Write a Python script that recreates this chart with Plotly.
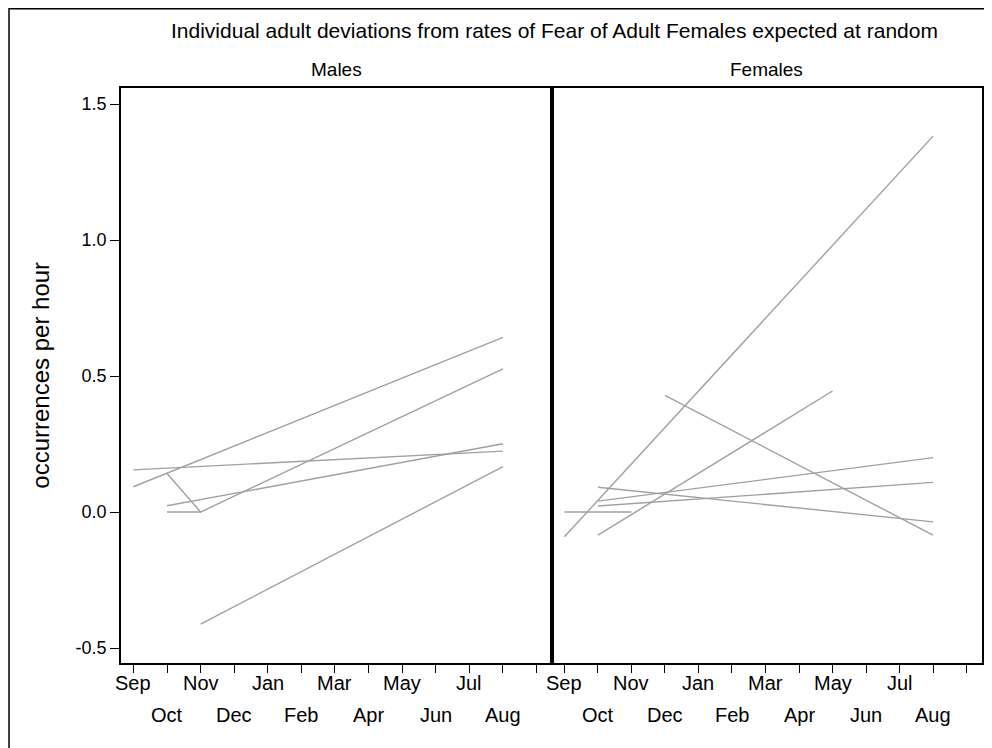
import plotly.graph_objects as go

# ---------------- data ----------------
months = ["Sep", "Oct", "Nov", "Dec", "Jan", "Feb", "Mar", "Apr", "May", "Jun", "Jul", "Aug"]
y_ticks = [-0.5, 0.0, 0.5, 1.0, 1.5]
y_tick_labels = ["-0.5", "0.0", "0.5", "1.0", "1.5"]

# Males (left panel): each individual line = (months, values)
male_1_months = ["Sep", "Aug"]
male_1_values = [0.093, 0.642]
male_2_months = ["Sep", "Aug"]
male_2_values = [0.155, 0.224]
male_3_months = ["Oct", "Nov", "Aug"]
male_3_values = [0.142, 0.0, 0.526]
male_4_months = ["Oct", "Nov"]
male_4_values = [0.0, 0.0]
male_5_months = ["Oct", "Aug"]
male_5_values = [0.023, 0.251]
male_6_months = ["Nov", "Aug"]
male_6_values = [-0.412, 0.167]

# Females (right panel)
female_1_months = ["Sep", "Aug"]
female_1_values = [-0.091, 1.382]
female_2_months = ["Oct", "May"]
female_2_values = [-0.085, 0.445]
female_3_months = ["Dec", "Aug"]
female_3_values = [0.429, -0.085]
female_4_months = ["Oct", "Aug"]
female_4_values = [0.091, -0.036]
female_5_months = ["Oct", "Aug"]
female_5_values = [0.040, 0.200]
female_6_months = ["Oct", "Aug"]
female_6_values = [0.022, 0.109]
female_7_months = ["Sep", "Nov"]
female_7_values = [0.0, 0.0]

males = [
    (male_1_months, male_1_values), (male_2_months, male_2_values),
    (male_3_months, male_3_values), (male_4_months, male_4_values),
    (male_5_months, male_5_values), (male_6_months, male_6_values),
]
females = [
    (female_1_months, female_1_values), (female_2_months, female_2_values),
    (female_3_months, female_3_values), (female_4_months, female_4_values),
    (female_5_months, female_5_values), (female_6_months, female_6_values),
    (female_7_months, female_7_values),
]

# ---------------- figure ----------------
# page body has an 8px margin, so the figure is 8px smaller than the window
OFF = 8
W, H = 984, 740
ML, MR, MT, MB = 113, 8, 80, 85
PW = W - ML - MR
PH = H - MT - MB
split = 432 / PW

FONT = "Arial, Liberation Sans, sans-serif"
LINE_COLOR = "#a0a0a0"

fig = go.Figure()


def idx(ms):
    return [months.index(m) for m in ms]


for ms, vs in males:
    fig.add_trace(go.Scatter(x=idx(ms), y=vs, mode="lines", xaxis="x", yaxis="y",
                             line=dict(color=LINE_COLOR, width=1.4), showlegend=False,
                             hoverinfo="skip"))
for ms, vs in females:
    fig.add_trace(go.Scatter(x=idx(ms), y=vs, mode="lines", xaxis="x2", yaxis="y2",
                             line=dict(color=LINE_COLOR, width=1.4), showlegend=False,
                             hoverinfo="skip"))

xr = [-0.37, 12.46]
yr = [-0.555, 1.559]
tickvals_x = list(range(len(months) + 1))

common_x = dict(range=xr, showgrid=False, zeroline=False, showline=True, linecolor="black",
                linewidth=1.5, mirror=True, ticks="outside", ticklen=8, tickwidth=1.2,
                tickcolor="black", tickvals=tickvals_x, showticklabels=False, fixedrange=True)

fig.update_layout(
    width=W, height=H,
    margin=dict(l=ML, r=MR, t=MT, b=MB, pad=0),
    paper_bgcolor="white", plot_bgcolor="white",
    font=dict(family=FONT, color="black"),
    xaxis=dict(domain=[0, split], anchor="y", **common_x),
    xaxis2=dict(domain=[split, 1], anchor="y2", **common_x),
    yaxis=dict(range=yr, domain=[0, 1], anchor="x", showgrid=False, zeroline=False,
               showline=True, linecolor="black", linewidth=1.5, mirror=True,
               ticks="outside", ticklen=9, tickwidth=1.2, tickcolor="black",
               tickvals=y_ticks, ticktext=y_tick_labels, tickfont=dict(size=18, family=FONT),
               fixedrange=True),
    yaxis2=dict(range=yr, domain=[0, 1], anchor="x2", showgrid=False, zeroline=False,
                showline=True, linecolor="black", linewidth=1.5, mirror=True,
                ticks="", showticklabels=False, fixedrange=True),
)


def py(page_y):
    """paper y for a page pixel row"""
    return 1 - (page_y - OFF - MT) / PH


def px(page_x):
    return (page_x - OFF - ML) / PW


# x tick labels, staggered on two rows
for xa in ["x", "x2"]:
    for i, m in enumerate(months):
        fig.add_annotation(x=i, y=py(683) if i % 2 == 0 else py(715), xref=xa, yref="paper",
                           text=m, showarrow=False, xanchor="center", yanchor="middle",
                           font=dict(size=20, family=FONT))

# titles
fig.add_annotation(x=px(556), y=py(31), xref="paper", yref="paper",
                   text="Individual adult deviations from rates of Fear of Adult Females expected at random",
                   showarrow=False, xanchor="center", yanchor="middle", font=dict(size=21, family=FONT))
fig.add_annotation(x=split / 2, y=py(69), xref="paper", yref="paper",
                   text="Males", showarrow=False, xanchor="center", yanchor="middle",
                   font=dict(size=19, family=FONT))
fig.add_annotation(x=(split + 1) / 2, y=py(69), xref="paper", yref="paper",
                   text="Females", showarrow=False, xanchor="center", yanchor="middle",
                   font=dict(size=19, family=FONT))
fig.add_annotation(x=px(40), y=0.5, xref="paper", yref="paper",
                   text="occurrences per hour", textangle=-90, showarrow=False,
                   xanchor="center", yanchor="middle", font=dict(size=24, family=FONT))

# thick divider between panels
fig.add_shape(type="line", xref="paper", yref="paper", x0=split, x1=split, y0=0, y1=1,
              line=dict(color="black", width=3))
# outer frame
fig.add_shape(type="rect", xref="paper", yref="paper",
              x0=px(8.75), x1=px(989), y0=py(760), y1=py(8.75),
              line=dict(color="black", width=1.5), fillcolor="rgba(0,0,0,0)", layer="below")

fig.write_html("out.html")
